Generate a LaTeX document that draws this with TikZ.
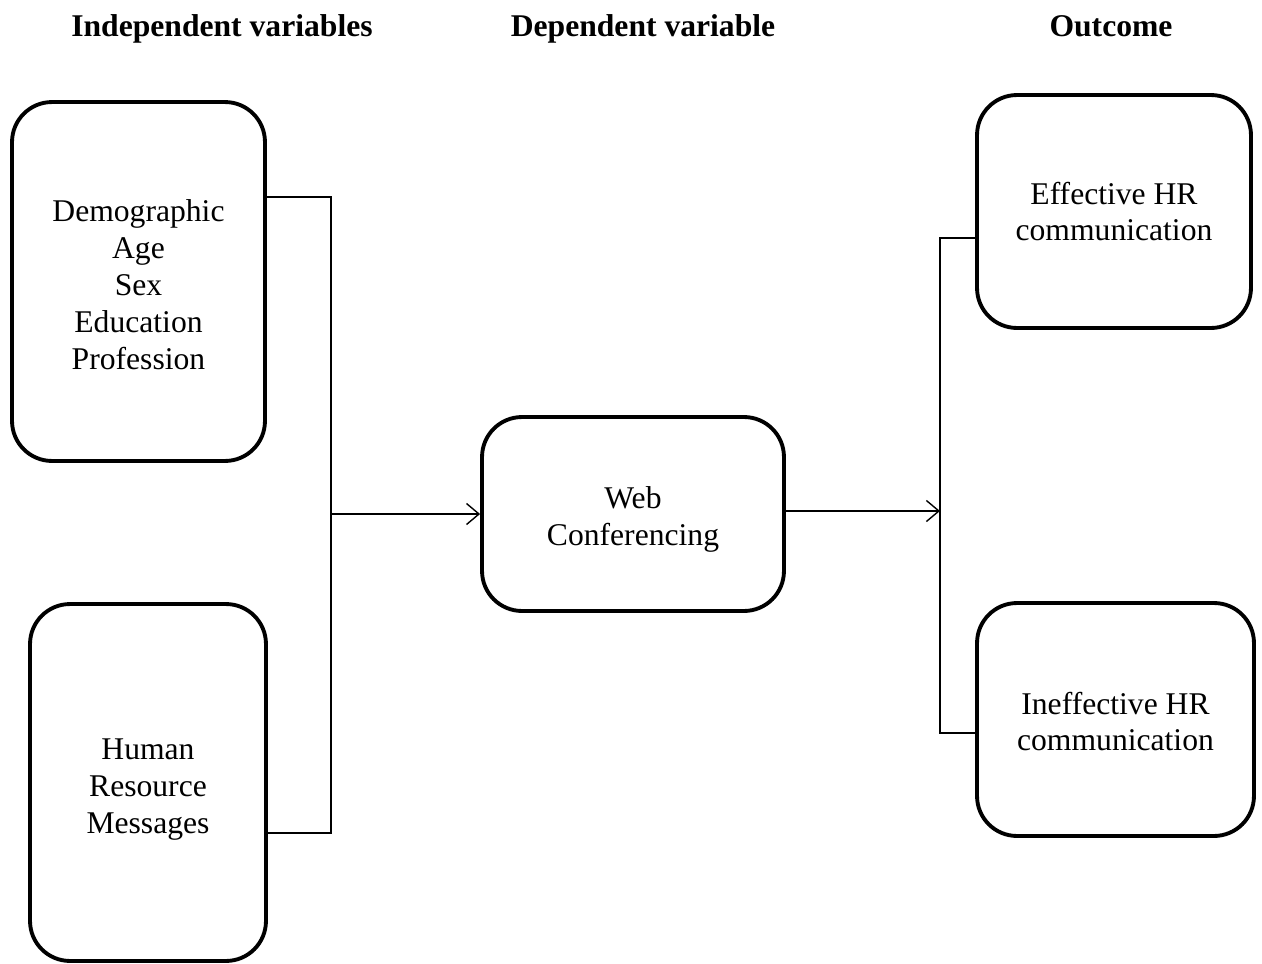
\documentclass[tikz,border=0pt]{standalone}
\usepackage{fontspec}
\setmainfont{Liberation Serif}
\usetikzlibrary{arrows.meta}
\begin{document}
\fontsize{18}{21}\selectfont
\begin{tikzpicture}[x=0.02cm, y=-0.02cm,
  varbox/.style={draw, line width=2.2pt, rounded corners=0.8cm, align=center, inner sep=0pt},
  heading/.style={font=\bfseries, anchor=base},
  link/.style={line width=0.8pt},
  arr/.style={link, -{Straight Barb[length=0.25cm, width=0.42cm, line width=0.8pt]}}]
\useasboundingbox (0,0) rectangle (1262,964);
\node[heading] (H1) at (222, 36) {Independent variables};
\node[heading] (H2) at (643, 36) {Dependent variable};
\node[heading] (H3) at (1111, 36) {Outcome};
\node[varbox, minimum width=5.06cm, minimum height=7.18cm] (Demo) at (138.5, 281.5) {\rule{0pt}{16pt}Demographic\\Age\\Sex\\Education\\Profession};
\node[varbox, minimum width=4.72cm, minimum height=7.14cm] (HRM) at (148, 782.5) {\rule{0pt}{20pt}Human\\Resource\\Messages};
\node[varbox, minimum width=6.04cm, minimum height=3.88cm] (Web) at (633, 514) {\rule{0pt}{19pt}Web\\Conferencing};
\node[varbox, minimum width=5.48cm, minimum height=4.66cm] (Eff) at (1114, 211.5) {Effective HR\\communication};
\node[varbox, minimum width=5.54cm, minimum height=4.66cm] (Ineff) at (1115.5, 719.5) {\rule{0pt}{15pt}Ineffective HR\\communication};
% left bracket
\coordinate (LT) at (331, 197);
\coordinate (LM) at (331, 514);
\coordinate (LB) at (331, 833);
\draw[link] (Demo.east |- LT) -- (LT) -- (LB) -- (HRM.east |- LB);
\draw[arr] (LM) -- (Web.west |- LM);
% right bracket
\coordinate (RT) at (940, 238);
\coordinate (RM) at (940, 511);
\coordinate (RB) at (940, 733);
\draw[arr] (Web.east |- RM) -- (RM);
\draw[link] (Eff.west |- RT) -- (RT) -- (RB) -- (Ineff.west |- RB);
\end{tikzpicture}
\end{document}
